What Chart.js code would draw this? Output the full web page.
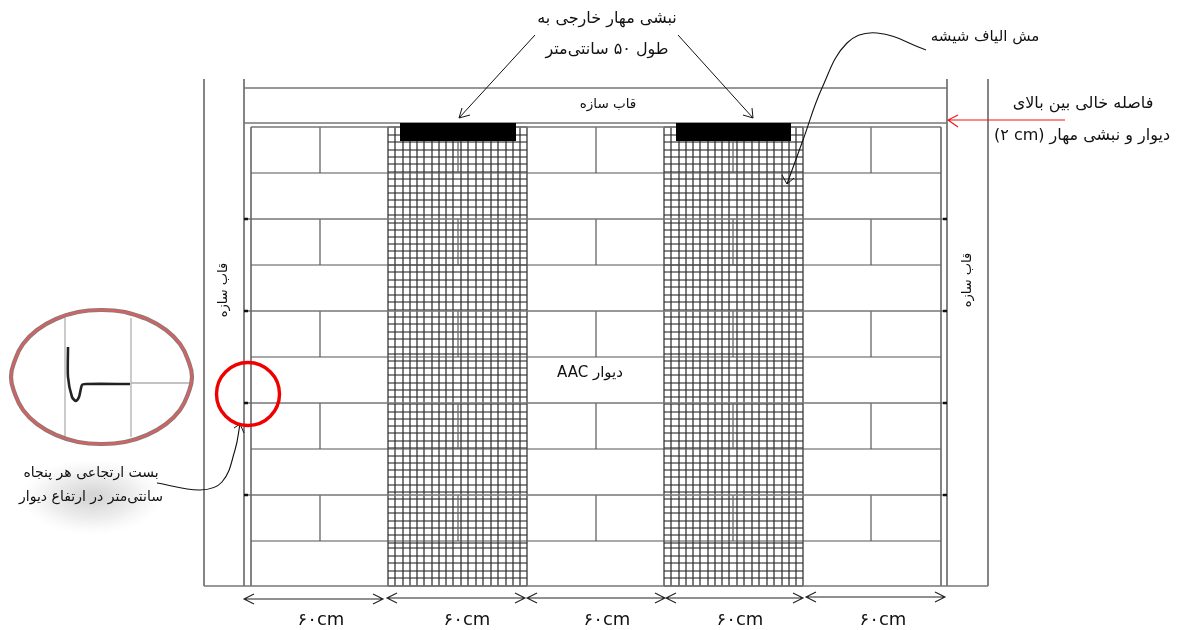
<!DOCTYPE html>
<html lang="fa"><head><meta charset="utf-8">
<style>html,body{margin:0;padding:0;background:#fff}canvas{display:block}</style>
<script src="https://cdn.jsdelivr.net/npm/chart.js@4"></script></head>
<body><canvas id="c" width="1178" height="630"></canvas>
<script>
// ---- values (pixel-like diagram units) ----
const frameVerticals = [[204,79,586],[244,79,586],[947,79,586],[988,79,586]];
const wallVerticals = [[251,127,586],[941,127,586]];
const frameHorizontals = [[88,244,947],[123,244,947],[586,204,988]];
const wallTop = [[127,251,400],[127,516,676],[127,791,941]];
const thinCourses = [[173,251,941],[265,251,941],[357,251,941],[449,251,941],[541,251,941]];
const tiedCourses = [[219,244,947],[311,244,947],[403,244,947],[495,244,947]];
const jointRows = [[127,173],[219,265],[311,357],[403,449],[495,541]];
const jointXs = [320,458,596,733,871];
const meshAX = [388,395,403,410,417,424,432,439,446,453,461,468,476,483,491,498,506,513,520,527];
const meshBX = [664,671,679,686,693,700,708,715,722,729,737,744,752,759,767,774,782,789,796,803];
const meshY = [127,135,142,150,157,164,172,179,186,193,200,207,215,223,230,237,244,251,258,265,272,280,287,295,302,310,317,324,332,339,347,354,361,368,375,383,390,397,404,412,419,426,433,441,448,456,463,470,477,485,492,499,507,513,521,528,535,543,548,556,563,571,578,586];
const anglePlates = [[400,516],[676,791]];
const plateCentreY = 132;
const tieYs = [219,311,403,495];
const straightArrows = [
  [[535,35],[459,118]],[[470,115],[459,118],[462,108]],
  [[678,35],[753,118]],[[743,115],[753,118],[752,108]]
];
const redArrow = [[[1065,120],[948,120]],[[958,115],[948,120],[958,127]]];
const dimArrows = [[244,383,599],[387,525,598],[527,665,598],[666,803,598],[806,945,597]];
const meshCurve = [[926,50],[877,33],[847,43],[822,88],[803,140],[787,184]];
const meshCurveHead = [[782,175],[787,184],[794,178]];
const tieCurve = [[157,483],[200,490],[222,482],[235,450],[240,424]];
const tieCurveHead = [[234,428],[240,424],[244,433]];
const insetEllipse = [[125,312],[147,319],[166,330],[180,344],[188,360],[192,377],[188,394],[180,410],[166,424],[147,435],[125,442],[101,444],[78,442],[56,435],[37,424],[23,410],[15,394],[11,377],[15,360],[23,344],[37,330],[56,319],[78,312],[101,310],[125,312],[147,319]];
const insetGrid = [[[65,318],[65,437]],[[131,318],[131,437]],[[131,383],[191,383]]];
const insetTie = [[68,347],[68,377],[72,397],[76,401],[79,397],[82,385],[86,384],[130,384]];
const redCircleCentre = [[248,394]];
const labels = [
  {t:'نبشی مهار خارجی به',x:607,y:19,s:16},
  {t:'طول ۵۰ سانتی‌متر',x:607,y:50,s:16},
  {t:'قاب سازه',x:608,y:104,s:13.5},
  {t:'مش الیاف شیشه',x:985,y:37,s:15},
  {t:'فاصله خالی بین بالای',x:1083,y:104,s:16},
  {t:'دیوار و نبشی مهار (\u200E۲ cm)',x:1082,y:136,s:16},
  {t:'دیوار AAC',x:590,y:373,s:15},
  {t:'بست ارتجاعی هر پنجاه',x:91,y:473,s:14},
  {t:'سانتی‌متر در ارتفاع دیوار',x:91,y:497,s:14},
  {t:'قاب سازه',x:224,y:290,s:13,r:-90},
  {t:'قاب سازه',x:968,y:280,s:13,r:-90},
  {t:'۶۰cm',x:321,y:620,s:18,ltr:1},
  {t:'۶۰cm',x:467,y:620,s:18,ltr:1},
  {t:'۶۰cm',x:607,y:620,s:18,ltr:1},
  {t:'۶۰cm',x:740,y:620,s:18,ltr:1},
  {t:'۶۰cm',x:883,y:620,s:18,ltr:1}
];
const FONT = '"DejaVu Sans", "Noto Sans", sans-serif';

// ---- helpers: turn the lists into chart points with gaps ----
const gap = {x:NaN,y:NaN};
const poly = list => list.flatMap(p => [...p.map(([x,y])=>({x,y})), gap]);
const vLines = list => poly(list.map(([x,a,b])=>[[x,a],[x,b]]));
const hLines = list => poly(list.map(([y,a,b])=>[[a,y],[b,y]]));
const line = (data,color,width,extra={}) => ({type:'scatter',showLine:true,data,borderColor:color,backgroundColor:color,borderWidth:width,pointRadius:0,spanGaps:false,tension:0,...extra});

const meshV = [...meshAX,...meshBX];
const joints = jointRows.flatMap(([a,b]) => jointXs.map(x => [x,a,b]));
const ties = tieYs.flatMap(y => [[[244,y],[248,y]],[[943,y],[947,y]]]);
const dims = dimArrows.flatMap(([a,b,y]) => [[[a,y],[b,y]],[[a+10,y-5],[a,y],[a+10,y+5]],[[b-10,y-5],[b,y],[b-10,y+5]]]);

// listed bottom-to-top; Chart.js paints the first dataset last, so the list is reversed below
const datasets = [
  line(poly(insetGrid),'#b0b0b0',1.3),
  line(insetEllipse.map(([x,y])=>({x,y})),'#8a7878',4.2,{tension:0.45}),
  line(insetEllipse.map(([x,y])=>({x,y})),'#cf6464',2.4,{tension:0.45}),
  line(insetTie.map(([x,y])=>({x,y})),'#222',2.6,{tension:0.25}),
  line(vLines(meshV.map(x=>[x,127,586])),'rgba(55,55,55,.72)',1.8),
  line(hLines(meshY.flatMap(y=>[[y,388,527],[y,664,803]])),'rgba(45,45,45,.75)',1.5),
  line(vLines(joints),'#666',1.3),
  line(hLines(thinCourses),'#555',1.2),
  line(hLines(tiedCourses),'#777',1.6),
  line(hLines(wallTop),'#777',1.6),
  line(vLines(wallVerticals),'#666',1.6),
  line(vLines(frameVerticals),'#666',1.6),
  line(hLines(frameHorizontals),'#777',1.6),
  line(poly(ties),'#111',2.4),
  line(hLines(anglePlates.map(([a,b])=>[plateCentreY,a,b])),'#000',18),
  line(poly(straightArrows),'#111',1),
  line(poly(redArrow),'#f01414',1.1),
  line(poly(dims),'#222',1.1),
  line(meshCurve.map(([x,y])=>({x,y})),'#111',1.1,{tension:0.4}),
  line(poly([meshCurveHead]),'#111',1),
  line(tieCurve.map(([x,y])=>({x,y})),'#111',1.1,{tension:0.4}),
  line(poly([tieCurveHead]),'#111',1),
  {type:'scatter',data:redCircleCentre.map(([x,y])=>({x,y})),pointRadius:31.5,pointBorderColor:'#f00000',pointBorderWidth:3.4,pointBackgroundColor:'rgba(0,0,0,0)',showLine:false}
].reverse();

const textPlugin = {
  id:'diagramText',
  beforeDatasetsDraw(chart){
    const {ctx,scales:{x:X,y:Y}} = chart;
    // soft shadow behind the tie note
    ctx.save();
    ctx.translate(X.getPixelForValue(92),Y.getPixelForValue(497));
    ctx.scale(1.9,1);
    const g = ctx.createRadialGradient(0,0,4,0,0,38);
    g.addColorStop(0,'rgba(120,120,120,.3)');
    g.addColorStop(.55,'rgba(150,150,150,.16)');
    g.addColorStop(1,'rgba(200,200,200,0)');
    ctx.fillStyle = g;
    ctx.beginPath();ctx.arc(0,0,38,0,Math.PI*2);ctx.fill();
    ctx.restore();
  },
  afterDatasetsDraw(chart){
    const {ctx,scales:{x:X,y:Y}} = chart;
    labels.forEach(l=>{
      ctx.save();
      ctx.translate(X.getPixelForValue(l.x),Y.getPixelForValue(l.y));
      if(l.r) ctx.rotate(l.r*Math.PI/180);
      ctx.font = l.s+'px '+FONT;
      ctx.fillStyle = '#111';
      ctx.textAlign = 'center';
      ctx.textBaseline = 'middle';
      ctx.direction = l.ltr ? 'ltr' : 'rtl';
      ctx.fillText(l.t,0,0);
      ctx.restore();
    });
  }
};

new Chart(document.getElementById('c'),{
  type:'scatter',
  data:{datasets},
  options:{
    responsive:false,animation:false,devicePixelRatio:1,
    layout:{padding:0,autoPadding:false},
    plugins:{legend:{display:false},tooltip:{enabled:false},title:{display:false}},
    scales:{
      x:{type:'linear',min:0,max:1178,display:false},
      y:{type:'linear',min:0,max:630,reverse:true,display:false}
    }
  },
  plugins:[textPlugin]
});
</script></body></html>
